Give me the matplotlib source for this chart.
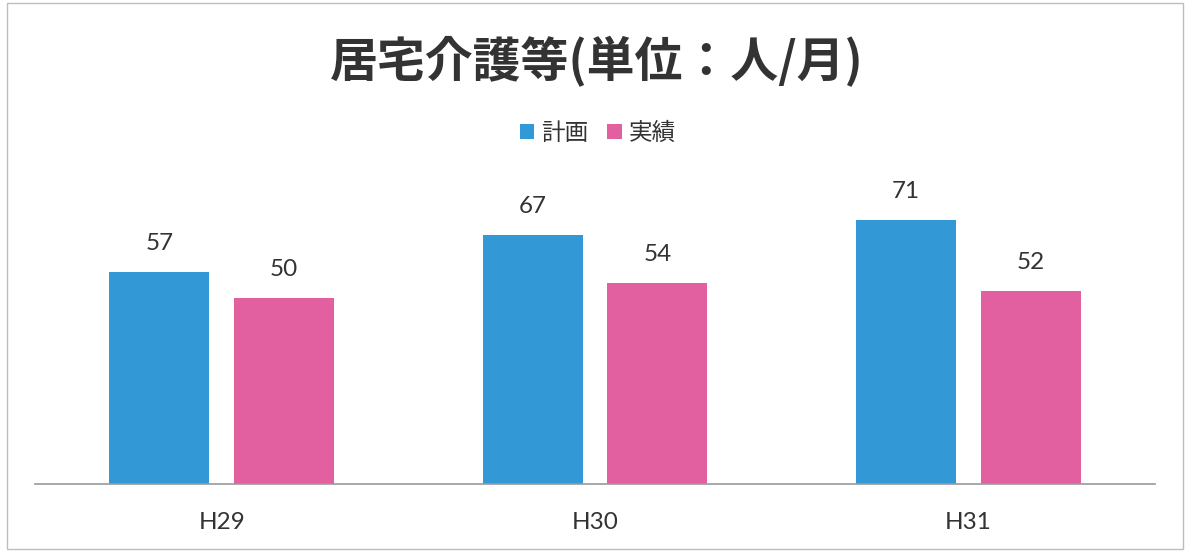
import matplotlib
matplotlib.use("Agg")
import matplotlib.pyplot as plt
import numpy as np
from matplotlib.patches import Rectangle

plt.rcParams["font.family"] = ["Noto Sans CJK JP", "DejaVu Sans"]

categories = ["H29", "H30", "H31"]
plan = [57, 67, 71]
actual = [50, 54, 52]
series_names = ["計画", "実績"]
title = "居宅介護等(単位：人/月)"

BLUE = "#3399d6"
PINK = "#e2609f"
TXT = "#333333"

W, H = 1186, 552
fig = plt.figure(figsize=(W / 100, H / 100), dpi=100)
ax = fig.add_axes([35 / W, (H - 484) / H, (1155 - 35) / W, (484 - 186.4) / H])

x = np.arange(len(categories))
bw = 0.268
off = 0.167
b1 = ax.bar(x - off, plan, bw, color=BLUE, label=series_names[0])
b2 = ax.bar(x + off, actual, bw, color=PINK, label=series_names[1])

for bars in (b1, b2):
    for r in bars:
        ax.annotate(f"{r.get_height():.0f}", (r.get_x() + r.get_width() / 2, r.get_height()),
                    xytext=(0, 13), textcoords="offset points", ha="center", va="bottom",
                    fontsize=17.5, color=TXT, family=["Lato", "DejaVu Sans"])

ax.set_xlim(-0.5, len(categories) - 0.5)
ax.set_ylim(0, 80)
ax.set_xticks(x)
ax.set_xticklabels(categories, fontsize=17.5, color=TXT, family=["Lato", "DejaVu Sans"])
ax.tick_params(axis="x", length=0, pad=20)
ax.set_yticks([])
for s in ("top", "right", "left"):
    ax.spines[s].set_visible(False)
ax.spines["bottom"].set_color("#9a9a9a")
ax.spines["bottom"].set_linewidth(1.2)

fig.text(597 / W, 1 - 62 / H, title, ha="center", va="center", fontsize=34.5,
         fontweight="bold", color=TXT)
fig.legend(handles=[b1, b2], loc="center", bbox_to_anchor=(598 / W, 1 - 133 / H), ncol=2,
           frameon=False, fontsize=17, handlelength=0.6, handleheight=0.6,
           handletextpad=0.3, columnspacing=0.8, labelcolor=TXT)

fig.add_artist(Rectangle((7 / W, 1 - 549 / H), (1183 - 7) / W, (549 - 3) / H,
                         transform=fig.transFigure, fill=False, edgecolor="#bdbdbd", lw=1.0))

fig.savefig("out.png", dpi=100)
